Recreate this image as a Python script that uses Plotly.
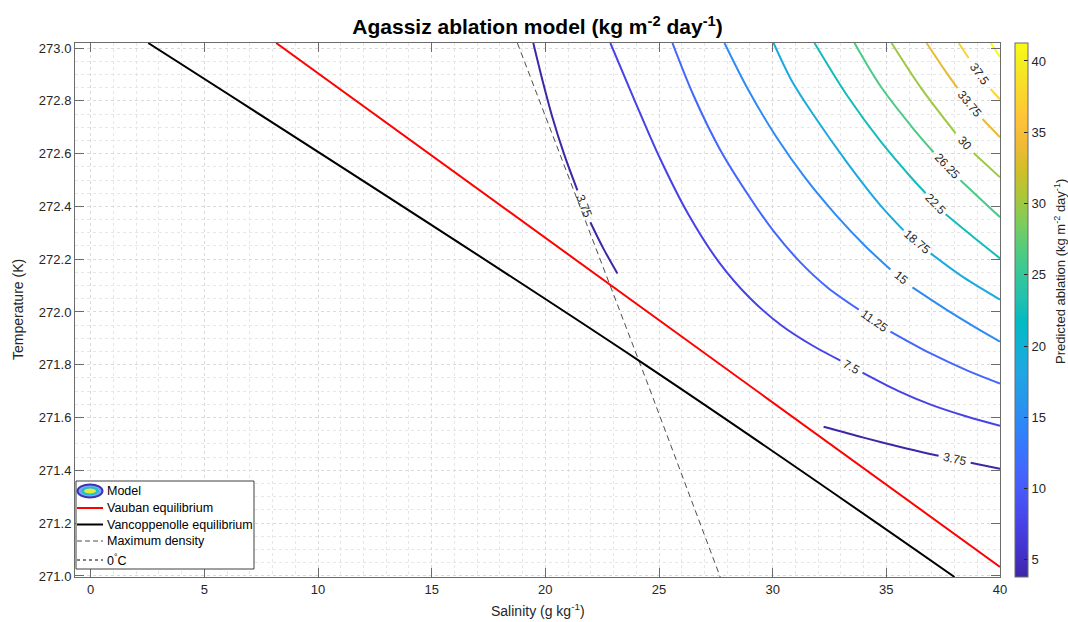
import math
import plotly.graph_objects as go
from plotly.colors import sample_colorscale

# ---------------------------------------------------------------- axes
S_RANGE = [-0.69, 40.0]          # salinity, g/kg
T_RANGE = [270.996, 273.019]     # temperature, K
S_TICKS = [0, 5, 10, 15, 20, 25, 30, 35, 40]
T_TICKS = [271.0, 271.2, 271.4, 271.6, 271.8, 272.0, 272.2, 272.4, 272.6, 272.8, 273.0]
CBAR_TICKS = [5, 10, 15, 20, 25, 30, 35, 40]
C_MIN, C_MAX = 3.8, 41.26

# ---------------------------------------------------------------- model contours
# salinity / temperature pairs along each ablation level; None marks the label gap
S_375A = [19.47, 19.87, 20.31, 20.84, 21.41, None, 21.98, 22.55, 23.17]
T_375A = [273.019, 272.879, 272.738, 272.594, 272.461, None, 272.340, 272.241, 272.146]

S_375B = [32.24, 34.00, 35.93, 37.30, None, 38.71, 40.00]
T_375B = [271.565, 271.524, 271.482, 271.455, None, 271.429, 271.406]

S_750 = [22.86, 23.92, 25.02, 26.29, 27.61, 29.02, 30.39, 31.75, 32.98, None,
         33.95, 35.49, 36.95, 38.57, 40.00]
T_750 = [273.019, 272.803, 272.586, 272.370, 272.192, 272.051, 271.949, 271.873, 271.816, None,
         271.770, 271.702, 271.649, 271.603, 271.569]

S_1125 = [25.59, 26.51, 27.70, 29.02, 30.04, 31.22, 32.41, 33.79, None, 35.18, 36.95, 38.57, 40.00]
T_1125 = [273.019, 272.822, 272.613, 272.431, 272.306, 272.188, 272.093, 272.009, None,
          271.926, 271.843, 271.778, 271.729]

S_1500 = [27.88, 28.93, 30.17, 31.44, 32.76, 34.08, 35.18, None, 36.15, 37.69, 38.93, 40.00]
T_1500 = [273.019, 272.841, 272.662, 272.507, 272.370, 272.249, 272.161, None,
          272.093, 272.006, 271.941, 271.888]

S_1875 = [30.04, 30.87, 31.80, 33.29, 34.74, 35.76, None, 36.95, 38.40, 40.00]
T_1875 = [273.019, 272.871, 272.746, 272.564, 272.404, 272.309, None, 272.222, 272.131, 272.047]

S_2250 = [31.84, 33.29, 34.74, 36.20, 36.73, None, 37.61, 38.84, 40.00]
T_2250 = [273.019, 272.818, 272.647, 272.499, 272.450, None, 272.370, 272.283, 272.203]

S_2625 = [33.60, 34.74, 36.20, 37.08, None, 38.26, 39.15, 40.00]
T_2625 = [273.019, 272.856, 272.693, 272.605, None, 272.499, 272.427, 272.359]

S_3000 = [35.23, 36.50, 38.05, None, 38.84, 40.00]
T_3000 = [273.019, 272.852, 272.677, None, 272.602, 272.510]

S_3375 = [36.77, 37.56, 38.13, None, 39.23, 40.00]
T_3375 = [273.019, 272.917, 272.848, None, 272.731, 272.662]

S_3750 = [38.18, 38.62, None, 39.59, 40.00]
T_3750 = [273.019, 272.962, None, 272.844, 272.806]

S_4125 = [39.59, 40.00]
T_4125 = [273.019, 272.966]

# ---------------------------------------------------------------- reference curves
S_VAUBAN = [8.16, 40.0]
T_VAUBAN = [273.019, 271.034]

S_VANC = [2.53, 24.18, 38.00]
T_VANC = [273.019, 271.812, 270.996]

S_MAXDENS = [18.77, 24.45, 27.71]
T_MAXDENS = [273.019, 271.740, 270.992]

S_ZERO_C = [0.0, 40.0]
T_ZERO_C = [273.15, 273.15]

# ---------------------------------------------------------------- styling
PARULA_ROWS = [
    (1, (0.2422, 0.1504, 0.6603)), (4, (0.2647, 0.1978, 0.7952)),
    (7, (0.2783, 0.2559, 0.8991)), (10, (0.2810, 0.3228, 0.9579)),
    (13, (0.2699, 0.3892, 0.9906)), (16, (0.2206, 0.4603, 0.9973)),
    (19, (0.1786, 0.5289, 0.9682)), (22, (0.1540, 0.5902, 0.9218)),
    (25, (0.1248, 0.6459, 0.8883)), (28, (0.0689, 0.6948, 0.8394)),
    (31, (0.0067, 0.7312, 0.7660)), (34, (0.1408, 0.7584, 0.6842)),
    (37, (0.2161, 0.7843, 0.5923)), (40, (0.3406, 0.8008, 0.4789)),
    (43, (0.5044, 0.7993, 0.3480)), (46, (0.6720, 0.7793, 0.2227)),
    (49, (0.8203, 0.7498, 0.1535)), (52, (0.9393, 0.7288, 0.2100)),
    (55, (0.9970, 0.7659, 0.2199)), (58, (0.9786, 0.8386, 0.1766)),
    (61, (0.9597, 0.9135, 0.1423)), (64, (0.9769, 0.9839, 0.0805)),
]
PARULA = [[(r - 1) / 63.0, "rgb(%d,%d,%d)" % tuple(round(c * 255) for c in rgb)]
          for r, rgb in PARULA_ROWS]

FONT = "Liberation Sans, Arial, Helvetica, sans-serif"
INK = "#262626"
FRAME = "#6b6b6b"

# plot-area geometry in pixels
W, H = 1068, 622
L, R, TOP, BOT = 75, 1000, 43, 577
PW, PH = R - L, BOT - TOP
PX_PER_S = PW / (S_RANGE[1] - S_RANGE[0])
PX_PER_T = PH / (T_RANGE[1] - T_RANGE[0])


def px_x(px):
    return (px - L) / PW


def px_y(py):
    return (BOT - py) / PH


def level_colour(level):
    t = min(max((level - C_MIN) / (C_MAX - C_MIN), 0.0), 1.0)
    return sample_colorscale(PARULA, [t])[0]


CONTOURS = [
    (3.75, S_375A, T_375A), (3.75, S_375B, T_375B), (7.5, S_750, T_750),
    (11.25, S_1125, T_1125), (15, S_1500, T_1500), (18.75, S_1875, T_1875),
    (22.5, S_2250, T_2250), (26.25, S_2625, T_2625), (30, S_3000, T_3000),
    (33.75, S_3375, T_3375), (37.5, S_3750, T_3750), (41.25, S_4125, T_4125),
]

fig = go.Figure()

# freezing / density reference curves
fig.add_trace(go.Scatter(x=S_ZERO_C, y=T_ZERO_C, mode="lines",
                         line=dict(color="black", width=1, dash="dot"),
                         showlegend=False, hoverinfo="skip"))
fig.add_trace(go.Scatter(x=S_MAXDENS, y=T_MAXDENS, mode="lines",
                         line=dict(color="#4d4d4d", width=1, dash="6px,4px"),
                         showlegend=False, hoverinfo="skip"))

annotations = []
for level, s_vals, t_vals in CONTOURS:
    fig.add_trace(go.Scatter(
        x=s_vals, y=t_vals, mode="lines",
        line=dict(color=level_colour(level), width=2, shape="spline", smoothing=0.9),
        connectgaps=False, showlegend=False, hoverinfo="skip"))
    if None in s_vals:
        i = s_vals.index(None)
        sa, ta, sb, tb = s_vals[i - 1], t_vals[i - 1], s_vals[i + 1], t_vals[i + 1]
        ang = math.degrees(math.atan2(-(tb - ta) * PX_PER_T, (sb - sa) * PX_PER_S))
        annotations.append(dict(
            x=(sa + sb) / 2, y=(ta + tb) / 2, xref="x", yref="y",
            text=f"{level:g}", showarrow=False, textangle=ang,
            font=dict(family=FONT, size=12, color=INK)))

fig.add_trace(go.Scatter(x=S_VAUBAN, y=T_VAUBAN, mode="lines",
                         line=dict(color="#ff0000", width=2),
                         showlegend=False, hoverinfo="skip"))
fig.add_trace(go.Scatter(x=S_VANC, y=T_VANC, mode="lines",
                         line=dict(color="black", width=2, shape="spline", smoothing=1.0),
                         showlegend=False, hoverinfo="skip"))

# colour bar for the ablation levels
fig.add_trace(go.Scatter(
    x=[None, None], y=[None, None], mode="markers", showlegend=False, hoverinfo="skip",
    marker=dict(color=[C_MIN, C_MAX], cmin=C_MIN, cmax=C_MAX, colorscale=PARULA,
                showscale=True,
                colorbar=dict(
                    x=px_x(1015), xanchor="left", xpad=0, ypad=0,
                    y=0.5, yanchor="middle", len=PH, lenmode="pixels",
                    thickness=13, thicknessmode="pixels",
                    outlinecolor=FRAME, outlinewidth=1,
                    tickvals=CBAR_TICKS, ticks="inside", ticklen=4, tickcolor=INK,
                    tickfont=dict(family=FONT, size=13, color=INK)))))

# ---------------------------------------------------------------- legend box
shapes = []
shapes.append(dict(type="rect", xref="paper", yref="paper",
                   x0=px_x(76), x1=px_x(254), y0=px_y(569), y1=px_y(481),
                   fillcolor="white", line=dict(color="#404040", width=1), layer="above"))
# contour icon: nested ellipses
for (x0, x1, y0, y1, fill, lc, lw) in [
    (77.5, 102.5, 484.5, 497.5, "#7fa6f5", "#3b33b4", 2),
    (81, 99, 486.8, 495.2, "#1fbfd0", "#1fbfd0", 0),
    (84, 96, 488.6, 493.4, "#e2ea3c", "#e2ea3c", 0),
]:
    shapes.append(dict(type="circle", xref="paper", yref="paper",
                       x0=px_x(x0), x1=px_x(x1), y0=px_y(y1), y1=px_y(y0),
                       fillcolor=fill, line=dict(color=lc, width=lw), layer="above"))
legend_rows = [
    ("Model", 491, None),
    ("Vauban equilibrium", 508, dict(color="#ff0000", width=2)),
    ("Vancoppenolle equilibrium", 524.5, dict(color="black", width=2)),
    ("Maximum density", 541, dict(color="#4d4d4d", width=1, dash="5px,3px")),
    ("0<sup>°</sup>C", 560, dict(color="black", width=1, dash="dot")),
]
for label, ypx, style in legend_rows:
    if style is not None:
        shapes.append(dict(type="line", xref="paper", yref="paper",
                           x0=px_x(77), x1=px_x(103), y0=px_y(ypx), y1=px_y(ypx),
                           line=style, layer="above"))
    annotations.append(dict(x=px_x(105), y=px_y(ypx), xref="paper", yref="paper",
                            xanchor="left", yanchor="middle", text=label, showarrow=False,
                            font=dict(family=FONT, size=12.5, color="black")))

# axis titles and colour-bar title
annotations.append(dict(x=0.5, y=px_y(610), xref="paper", yref="paper",
                        text="Salinity (g kg<sup>-1</sup>)", showarrow=False,
                        xanchor="center", yanchor="middle",
                        font=dict(family=FONT, size=14, color=INK)))
annotations.append(dict(x=px_x(18), y=0.5, xref="paper", yref="paper",
                        text="Temperature (K)", showarrow=False, textangle=-90,
                        xanchor="center", yanchor="middle",
                        font=dict(family=FONT, size=14, color=INK)))
annotations.append(dict(x=px_x(1060), y=px_y(272), xref="paper", yref="paper",
                        text="Predicted ablation (kg m<sup>-2</sup> day<sup>-1</sup>)",
                        showarrow=False, textangle=-90,
                        xanchor="center", yanchor="middle",
                        font=dict(family=FONT, size=13, color=INK)))

axis_common = dict(
    showline=True, linecolor=FRAME, linewidth=1, mirror="ticks",
    ticks="inside", ticklen=9, tickwidth=1, tickcolor=FRAME,
    tickfont=dict(family=FONT, size=13, color=INK),
    showgrid=True, gridcolor="#dadada", gridwidth=1, griddash="dot",
    zeroline=False,
)

fig.update_layout(
    width=W, height=H,
    margin=dict(l=L, r=W - R, t=TOP, b=H - BOT, autoexpand=False),
    paper_bgcolor="white", plot_bgcolor="white",
    showlegend=False,
    title=dict(text="<b>Agassiz ablation model (kg m<sup>-2</sup> day<sup>-1</sup>)</b>",
               x=0.5, xref="paper", xanchor="center",
               y=1 - 27 / H, yref="container", yanchor="middle",
               font=dict(family=FONT, size=21, color="black")),
    xaxis=dict(range=S_RANGE, tickvals=S_TICKS,
               minor=dict(dtick=1, tick0=0, showgrid=True, gridcolor="#e6e6e6",
                          griddash="dot", ticks=""),
               **axis_common),
    yaxis=dict(range=T_RANGE, tickvals=T_TICKS, tickformat=".1f",
               minor=dict(dtick=0.05, tick0=271.0, showgrid=True, gridcolor="#e6e6e6",
                          griddash="dot", ticks=""),
               **axis_common),
    shapes=shapes,
    annotations=annotations,
)

fig.write_html("out.html")
